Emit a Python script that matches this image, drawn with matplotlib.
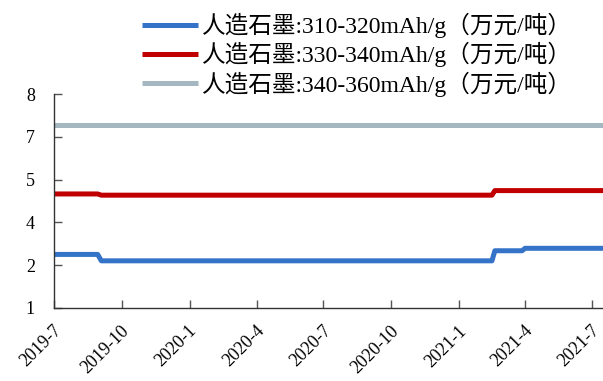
import matplotlib
matplotlib.use("Agg")
import matplotlib.pyplot as plt
from matplotlib.transforms import ScaledTranslation
import numpy as np
import pandas as pd

plt.rcParams['font.family'] = ['Liberation Serif', 'Noto Sans CJK SC']

# 数据 (万元/吨)
labels = ['人造石墨:310-320mAh/g（万元/吨）',
          '人造石墨:330-340mAh/g（万元/吨）',
          '人造石墨:340-360mAh/g（万元/吨）']
colors = ['#3573C8', '#C00000', '#A5B8C2']

blue_dates = ['2019-07-01', '2019-08-29', '2019-09-03', '2021-02-15', '2021-02-19',
              '2021-03-28', '2021-04-01', '2021-07-16']
blue_vals = [2.75, 2.75, 2.54, 2.54, 2.87, 2.87, 2.95, 2.95]

red_dates = ['2019-07-01', '2019-08-29', '2019-09-03', '2021-02-15', '2021-02-19', '2021-07-16']
red_vals = [4.73, 4.73, 4.69, 4.69, 4.84, 4.84]

gray_dates = ['2019-07-01', '2021-07-16']
gray_vals = [7.0, 7.0]

xticks = pd.date_range('2019-07-01', '2021-07-01', freq='3MS')
yticks = np.linspace(1, 8, 6)

fig = plt.figure(figsize=(6.03, 3.81), dpi=100)
ax = fig.add_axes([0.09, 0.192, 0.91, 0.561])

series = [(blue_dates, blue_vals), (red_dates, red_vals), (gray_dates, gray_vals)]
for (d, v), c, lab in zip(series, colors, labels):
    ax.plot(pd.to_datetime(d), v, color=c, lw=3.6, label=lab, solid_capstyle='butt')

ax.set_xlim(pd.Timestamp('2019-07-01'), pd.Timestamp('2021-07-16'))
ax.set_ylim(1, 8)
ax.set_yticks(yticks)
ax.yaxis.set_major_formatter(matplotlib.ticker.FormatStrFormatter('%.0f'))
ax.set_xticks(xticks)
ax.set_xticklabels([f'{t.year}-{t.month}' for t in xticks], rotation=45,
                   ha='right', va='baseline', rotation_mode='anchor')

for s in ['top', 'right']:
    ax.spines[s].set_visible(False)
for s in ['left', 'bottom']:
    ax.spines[s].set_color('#333333')
    ax.spines[s].set_linewidth(1.0)
ax.tick_params(axis='both', direction='in', length=6, width=1, color='#555555',
               labelsize=13, pad=4)
ax.tick_params(axis='y', pad=14)
ax.tick_params(axis='x', labelsize=13, pad=17)

# nudge rotated labels so their ends sit at the ticks (after tick_params, which resets transforms)
shift = ScaledTranslation(0.08, 0, fig.dpi_scale_trans)
for tick in ax.xaxis.get_major_ticks():
    tick.label1.set_transform(tick.label1.get_transform() + shift)

fig.legend(loc='upper left', bbox_to_anchor=(0.23, 0.975), frameon=False,
           fontsize=17, handlelength=2.35, handletextpad=0.2, labelspacing=0.17,
           borderaxespad=0, borderpad=0.15)

fig.savefig('out.png', dpi=100)
